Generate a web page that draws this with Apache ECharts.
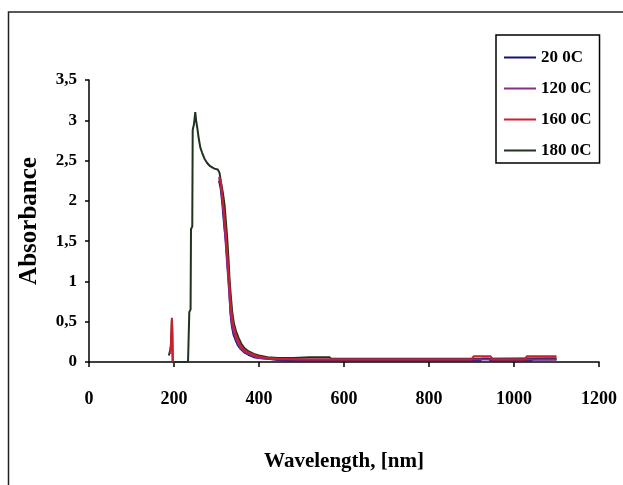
<!DOCTYPE html>
<html>
<head>
<meta charset="utf-8">
<script src="https://cdn.jsdelivr.net/npm/echarts@6/dist/echarts.min.js"></script>
<style>
  html, body { margin: 0; padding: 0; background: #fff; }
  #chart { width: 623px; height: 485px; }
</style>
</head>
<body>
<div id="chart"></div>
<script>
// wavelength (nm) / absorbance pairs
const seriesNames = ['20 0C', '120 0C', '160 0C', '180 0C'];
const seriesColors = ['#14146e', '#8a2a8a', '#c8202c', '#1e3320'];

const wl20 = [306, 310, 314, 318, 322, 326, 330, 333, 336, 340, 345, 350, 357, 365, 375, 388, 400, 420, 445, 470, 520, 920, 925, 940, 945, 1040, 1045, 1060, 1100];
const abs20 = [2.25, 2.15, 1.95, 1.7, 1.5, 1.2, 0.9, 0.6, 0.45, 0.34, 0.27, 0.21, 0.16, 0.12, 0.09, 0.06, 0.05, 0.04, 0.025, 0.02, 0.02, 0.02, 0.04, 0.04, 0.02, 0.02, 0.03, 0.03, 0.03];

const wl120 = [306, 310, 314, 318, 322, 326, 330, 333, 336, 340, 345, 350, 357, 365, 375, 388, 400, 420, 445, 1100];
const abs120 = [2.28, 2.2, 2.0, 1.75, 1.45, 1.15, 0.85, 0.62, 0.48, 0.38, 0.3, 0.23, 0.17, 0.13, 0.1, 0.07, 0.05, 0.04, 0.03, 0.03];

const wl160 = [191, 193, 195, 196, 197, 198, 306, 310, 314, 318, 322, 326, 330, 333, 336, 340, 345, 350, 357, 365, 375, 388, 400, 420, 445, 500, 900, 905, 945, 950, 1025, 1030, 1100];
const abs160 = [0.1, 0.25, 0.55, 0.4, 0, '-', 2.3, 2.25, 2.05, 1.85, 1.6, 1.3, 1.0, 0.75, 0.58, 0.45, 0.35, 0.28, 0.2, 0.15, 0.12, 0.09, 0.07, 0.05, 0.04, 0.03, 0.03, 0.07, 0.07, 0.03, 0.03, 0.07, 0.07];

const wl180 = [188, 191, 193, 195, 196, 197, 233, 235, 236, 239, 240, 243, 244, 247, 250, 252, 255, 258, 262, 266, 272, 278, 285, 295, 303, 307, 311, 315, 319, 322, 325, 328, 331, 334, 337, 341, 346, 352, 358, 366, 376, 388, 400, 420, 445, 480, 520, 565, 570, 900, 1100];
const abs180 = [0.08, 0.15, 0.2, 0.52, 0.35, 0, 0, 0, 0.62, 0.65, 1.65, 1.68, 2.88, 2.95, 3.1, 3.0, 2.9, 2.78, 2.66, 2.6, 2.52, 2.47, 2.43, 2.4, 2.39, 2.35, 2.22, 2.1, 1.95, 1.75, 1.55, 1.3, 1.0, 0.8, 0.62, 0.48, 0.38, 0.3, 0.23, 0.17, 0.13, 0.1, 0.08, 0.06, 0.05, 0.05, 0.06, 0.06, 0.04, 0.04, 0.045];

const xTicks = { min: 0, max: 1200, interval: 200 };
const yTicks = { min: 0, max: 3.5, interval: 0.5 };

const pairs = (xs, ys) => xs.map((x, i) => [x, ys[i]]);
const allData = [
  pairs(wl20, abs20),
  pairs(wl120, abs120),
  pairs(wl160, abs160),
  pairs(wl180, abs180)
];

const font = "'Liberation Serif', 'Times New Roman', serif";
const chart = echarts.init(document.getElementById('chart'));

chart.setOption({
  animation: false,
  backgroundColor: '#fff',
  color: seriesColors,
  graphic: [
    {
      type: 'rect',
      shape: { x: 8.5, y: 12, width: 620, height: 480 },
      style: { fill: 'none', stroke: '#222', lineWidth: 1.5 },
      silent: true
    }
  ],
  legend: {
    orient: 'vertical',
    left: 496,
    top: 35,
    padding: [14, 8, 4, 8],
    borderColor: '#000',
    borderWidth: 1.5,
    icon: 'rect',
    itemWidth: 32,
    itemHeight: 2,
    itemGap: 14,
    data: seriesNames,
    textStyle: { fontFamily: font, fontWeight: 'bold', fontSize: 17, color: '#000' }
  },
  grid: { left: 89, right: 24, top: 80, bottom: 123 },
  xAxis: {
    type: 'value',
    min: xTicks.min,
    max: xTicks.max,
    interval: xTicks.interval,
    name: 'Wavelength, [nm]',
    nameLocation: 'middle',
    nameGap: 89,
    nameTextStyle: { fontFamily: font, fontWeight: 'bold', fontSize: 21, color: '#000' },
    axisLine: { lineStyle: { color: '#000', width: 1.5 } },
    axisTick: { length: 5, lineStyle: { color: '#000', width: 1.5 } },
    axisLabel: {
      margin: 28,
      fontFamily: font,
      fontWeight: 'bold',
      fontSize: 18,
      color: '#000',
      formatter: v => String(v)
    },
    splitLine: { show: false }
  },
  yAxis: {
    type: 'value',
    min: yTicks.min,
    max: yTicks.max,
    interval: yTicks.interval,
    name: 'Absorbance',
    nameLocation: 'middle',
    nameGap: 47,
    nameTextStyle: { fontFamily: font, fontWeight: 'bold', fontSize: 25, color: '#000' },
    axisLine: { show: true, lineStyle: { color: '#000', width: 1.5 } },
    axisTick: { show: true, length: 4, lineStyle: { color: '#000', width: 1.5 } },
    axisLabel: {
      margin: 12,
      fontFamily: font,
      fontWeight: 'bold',
      fontSize: 17,
      color: '#000',
      formatter: v => String(v).replace('.', ',')
    },
    splitLine: { show: false }
  },
  series: seriesNames.map((name, i) => ({
    name,
    type: 'line',
    data: allData[i],
    showSymbol: false,
    symbol: 'none',
    z: i === 3 ? 1 : 2 + i,
    lineStyle: { width: 2, color: seriesColors[i] }
  }))
});
</script>
</body>
</html>
